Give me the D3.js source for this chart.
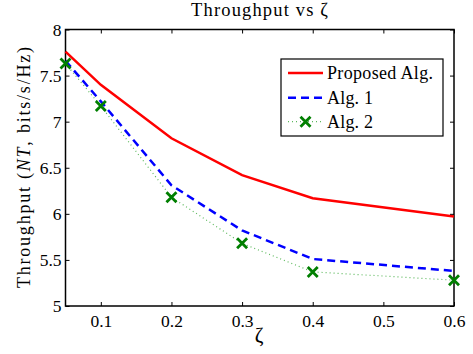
<!DOCTYPE html>
<html>
<head>
<meta charset="utf-8">
<script src="https://cdn.jsdelivr.net/npm/d3@7"></script>
<style>
body{margin:0;background:#fff;}
svg text{font-family:"Liberation Serif","Times New Roman",serif !important;fill:#000;}
</style>
</head>
<body>
<svg id="chart" width="473" height="354"></svg>
<script>
// values
var zeta=[0.05,0.1,0.2,0.3,0.4,0.6];
var proposed=[7.76,7.40,6.82,6.42,6.17,5.97];
var alg1=[7.66,7.22,6.31,5.82,5.51,5.38];
var alg2=[7.63,7.17,6.18,5.68,5.37,5.28];
var xTicks=[0.1,0.2,0.3,0.4,0.5,0.6];
var yTicks=[5,5.5,6,6.5,7,7.5,8];
var seriesNames=["Proposed Alg.","Alg. 1","Alg. 2"];

var svg=d3.select("#chart");
var plotL=65.5,plotR=454,plotT=29.5,plotB=306;

var x=d3.scaleLinear().domain([0.05,0.6]).range([plotL,plotR]);
var y=d3.scaleLinear().domain([5,8]).range([plotB,plotT]);

// axes, ticks pointing inward
var gx=svg.append("g").attr("transform","translate(0,"+plotB+")")
	.call(d3.axisBottom(x).tickValues(xTicks).tickSize(-4).tickPadding(8.5).tickFormat(d3.format(".1f")));
var gxt=svg.append("g").attr("transform","translate(0,"+plotT+")")
	.call(d3.axisTop(x).tickValues(xTicks).tickSize(-4).tickFormat(""));
var gy=svg.append("g").attr("transform","translate("+plotL+",0)")
	.call(d3.axisLeft(y).tickValues(yTicks).tickSize(-4).tickPadding(4).tickFormat(d3.format("")));
var gyr=svg.append("g").attr("transform","translate("+plotR+",0)")
	.call(d3.axisRight(y).tickValues(yTicks).tickSize(-4).tickFormat(""));

[gx,gxt,gy,gyr].forEach(function(g){
	g.attr("font-size",null).attr("font-family",null);
	g.select(".domain").remove();
	g.selectAll("line").attr("stroke","#000").attr("stroke-width",1);
	g.selectAll("text").style("font-size","17.5px");
});

svg.append("rect")
	.attr("x",plotL).attr("y",plotT)
	.attr("width",plotR-plotL).attr("height",plotB-plotT)
	.attr("fill","none").attr("stroke","#000").attr("stroke-width",1.5);

var line=d3.line().x(function(d){return x(d[0]);}).y(function(d){return y(d[1]);});

svg.append("path")
	.datum(d3.zip(zeta,proposed))
	.attr("d",line).attr("fill","none")
	.attr("stroke","#ff0000").attr("stroke-width",2.5);

svg.append("path")
	.datum(d3.zip(zeta,alg1))
	.attr("d",line).attr("fill","none")
	.attr("stroke","#0000ff").attr("stroke-width",2.5)
	.attr("stroke-dasharray","8,5");

svg.append("path")
	.datum(d3.zip(zeta,alg2))
	.attr("d",line).attr("fill","none")
	.attr("stroke","#5cb85c").attr("stroke-width",1.2)
	.attr("stroke-dasharray","1,3");

function cross(g,cx,cy){
	var s=5;
	g.append("path")
		.attr("d","M"+(cx-s)+","+(cy-s)+"L"+(cx+s)+","+(cy+s)+"M"+(cx-s)+","+(cy+s)+"L"+(cx+s)+","+(cy-s))
		.attr("stroke","#007f00").attr("stroke-width",2.8).attr("fill","none");
}
var markers=svg.append("g");
zeta.forEach(function(z,i){ cross(markers,x(z),y(alg2[i])); });

// title and labels
svg.append("text").attr("x",191).attr("y",16)
	.attr("textLength",137).attr("lengthAdjust","spacing")
	.style("font-size","18.5px").text("Throughput vs \u03B6");

svg.append("text").attr("x",259).attr("y",342).attr("text-anchor","middle")
	.style("font-size","21px").text("\u03B6");

var yl=svg.append("text")
	.attr("transform","translate(30,288) rotate(-90)")
	.attr("textLength",241).attr("lengthAdjust","spacing")
	.style("font-size","18px");
yl.append("tspan").text("Throughput (");
yl.append("tspan").style("font-style","italic").text("NT");
yl.append("tspan").text(", bits/s/Hz)");

// legend
var lg=svg.append("g");
lg.append("rect").attr("x",281).attr("y",59).attr("width",162).attr("height",77)
	.attr("fill","#fff").attr("stroke","#000").attr("stroke-width",1.2);
var ly=[73,97.7,121.7];
var legLen=[106,46,46];
lg.append("line").attr("x1",288).attr("x2",323).attr("y1",ly[0]).attr("y2",ly[0])
	.attr("stroke","#ff0000").attr("stroke-width",2.5);
lg.append("line").attr("x1",288).attr("x2",323).attr("y1",ly[1]).attr("y2",ly[1])
	.attr("stroke","#0000ff").attr("stroke-width",2.5).attr("stroke-dasharray","8,5");
lg.append("line").attr("x1",288).attr("x2",323).attr("y1",ly[2]).attr("y2",ly[2])
	.attr("stroke","#5cb85c").attr("stroke-width",1.2).attr("stroke-dasharray","1,3");
cross(lg,305.5,ly[2]);
seriesNames.forEach(function(n,i){
	lg.append("text").attr("x",327).attr("y",ly[i]+6)
		.attr("textLength",legLen[i]).attr("lengthAdjust","spacing")
		.style("font-size","18px").text(n);
});
</script>
</body>
</html>
